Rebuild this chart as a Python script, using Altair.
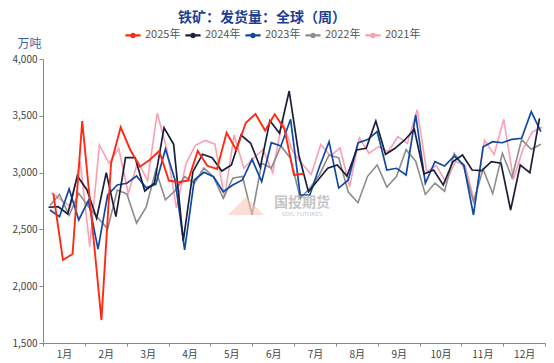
import altair as alt
import pandas as pd

years = ["2025年", "2024年", "2023年", "2022年", "2021年"]
colors = ["#ff2a14", "#1b1f3d", "#0f49a3", "#8c8c8c", "#fb9fb3"]
widths = {"2025年": 1.9, "2024年": 1.7, "2023年": 1.7, "2022年": 1.6, "2021年": 1.6}

# day of year of the first weekly observation
first_day = {"2025年": 7.5, "2024年": 4, "2023年": 5, "2022年": 5, "2021年": 6}

# 2025 has a missing week (Spring Festival)
weeks_2025 = [0, 1, 2, 3, 5, 6, 7, 8, 9, 10, 11, 12, 13, 14, 15, 16, 17, 18,
              19, 20, 21, 22, 23, 24, 25, 26]
v2025 = [2818, 2231, 2283, 3454, 1702, 3082, 3399, 3199, 3052, 3111, 3190, 2930,
         2915, 2930, 3190, 3060, 3032, 3351, 3199, 3439, 3516, 3370, 3513, 3385,
         2980, 2990]
v2024 = [2695, 2700, 2636, 2970, 2847, 2598, 3000, 2612, 3131, 3131, 2838, 2906,
         3395, 3249, 2398, 3008, 3161, 3131, 3014, 3067, 3331, 3258, 3047, 3457,
         3346, 3718, 3155, 2832, 2935, 3038, 3067, 2970, 3199, 3214, 3454, 3161,
         3214, 3287, 3381, 2988, 3023, 2891, 3096, 3155, 3023, 3017, 3096, 3082,
         2671, 3067, 2999, 3478]
v2023 = [2671, 2612, 2856, 2583, 2753, 2327, 2803, 2891, 2906, 2970, 2867, 2897,
         3208, 2935, 2319, 2935, 3003, 2964, 2832, 2891, 2935, 3117, 2920, 3263,
         3234, 3469, 2803, 2803, 3052, 3272, 2864, 2935, 3261, 3291, 3362, 3023,
         3038, 2979, 3507, 2906, 3096, 3058, 3146, 3067, 2627, 3228, 3272, 3263,
         3293, 3302, 3536, 3360]
v2022 = [2710, 2808, 2625, 2818, 2702, 2600, 2505, 2847, 2812, 2556, 2695, 3020,
         2760, 2840, 2964, 2906, 3040, 2962, 2774, 2950, 2967, 2627, 3082, 3040,
         3235, 3125, 2774, 2862, 2980, 3155, 3130, 2828, 2735, 2967, 3067, 2873,
         2965, 3202, 3100, 2808, 2908, 2836, 3170, 3050, 2744, 3029, 2815, 3170,
         2955, 3290, 3205, 3250]
v2021 = [2824, 2760, 2700, 3100, 2348, 3243, 3082, 3214, 2818, 3096, 2929, 3522,
         3210, 2690, 3082, 3243, 3283, 3250, 2780, 3331, 3038, 3126, 3202, 3000,
         3463, 3199, 3082, 2985, 3248, 3148, 3217, 2876, 3306, 3170, 3228, 3184,
         3316, 3258, 3554, 3008, 3062, 2913, 3100, 3060, 2730, 3284, 3160, 3469,
         2940, 3206, 3360, 3399]

y_ticks = [1500, 2000, 2500, 3000, 3500, 4000]
month_ticks = [k * 365 / 12 for k in range(13)]

series = {
    "2025年": (weeks_2025, v2025),
    "2024年": (list(range(len(v2024))), v2024),
    "2023年": (list(range(len(v2023))), v2023),
    "2022年": (list(range(len(v2022))), v2022),
    "2021年": (list(range(len(v2021))), v2021),
}
rows = []
for yr, (wks, vals) in series.items():
    for w, v in zip(wks, vals):
        rows.append({"year": yr, "day": first_day[yr] + 7 * w, "value": v})
df = pd.DataFrame(rows)

FONT = "Noto Sans CJK SC"
legend_path = ("M-1,0H1M0.22,0A0.22,0.22,0,1,1,-0.22,0"
               "A0.22,0.22,0,1,1,0.22,0Z")

x_enc = alt.X(
    "day:Q",
    scale=alt.Scale(domain=[0, 365], nice=False, zero=False),
    axis=alt.Axis(
        values=month_ticks, title=None, grid=False,
        labelExpr="datum.value > 360 ? '' : (round(datum.value / (365 / 12)) + 1) + '月'",
        labelOffset=21, labelOverlap=False, labelFlush=False,
        tickSize=3, tickColor="#888888", domainColor="#888888",
        labelFontSize=10, labelColor="#444444", labelFont=FONT, labelPadding=3,
    ),
)
y_enc = alt.Y(
    "value:Q",
    scale=alt.Scale(domain=[1500, 4000], nice=False, zero=False),
    axis=alt.Axis(
        values=y_ticks, format=",.0f", grid=False,
        title="万吨", titleAngle=0, titleAlign="center", titleBaseline="middle",
        titleX=-14, titleY=-16, titleColor="#3a5fa8", titleFontSize=12,
        titleFontWeight="normal", titleFont=FONT,
        tickSize=4, tickColor="#888888", domainColor="#888888",
        labelFontSize=10, labelColor="#444444", labelFont=FONT, labelPadding=2,
    ),
)
color_enc = alt.Color(
    "year:N",
    scale=alt.Scale(domain=years, range=colors),
    legend=alt.Legend(
        orient="none", legendX=81, legendY=-33, direction="horizontal",
        title=None, symbolType=legend_path, symbolSize=230,
        symbolStrokeWidth=2.2, labelFontSize=11, labelColor="#555555",
        labelFont=FONT, labelOffset=3, columnPadding=0,
    ),
)

base = alt.Chart(df)
layers = []
for yr in reversed(years):
    layers.append(
        base.transform_filter(alt.datum.year == yr)
        .mark_line(strokeWidth=widths[yr], interpolate="linear")
        .encode(x=x_enc, y=y_enc, color=color_enc)
    )

wm_cn = alt.Chart(pd.DataFrame({"t": ["国投期货"]})).mark_text(
    font=FONT, fontSize=14, color="#bcbcbc", opacity=0.85, fontWeight="bold"
).encode(x=alt.value(259), y=alt.value(143.5), text="t:N")
wm_en = alt.Chart(pd.DataFrame({"t": ["SDIC FUTURES"]})).mark_text(
    font="DejaVu Sans", fontSize=5.5, color="#c4c4c4", opacity=0.9
).encode(x=alt.value(259), y=alt.value(155), text="t:N")
wm_logo = alt.Chart(pd.DataFrame({"t": ["logo"]})).mark_point(
    shape="M-1,0.5L0,-0.5L1,0.5Z", filled=True, size=1300,
    color="#f9c2b2", opacity=0.55
).encode(x=alt.value(203), y=alt.value(147))

chart = alt.layer(*layers, wm_logo, wm_cn, wm_en).properties(
    width=502, height=284,
    title=alt.TitleParams(
        "铁矿：发货量：全球（周）", fontSize=14, fontWeight="bold",
        color="#1c3f94", font=FONT, anchor="middle", dx=-32, offset=1,
    ),
    autosize=alt.AutoSizeParams(type="none"),
    padding={"left": 35, "top": 51, "right": 1, "bottom": 16},
).configure_view(stroke=None)

chart.save("out.html", embed_options={"renderer": "svg", "actions": False})
